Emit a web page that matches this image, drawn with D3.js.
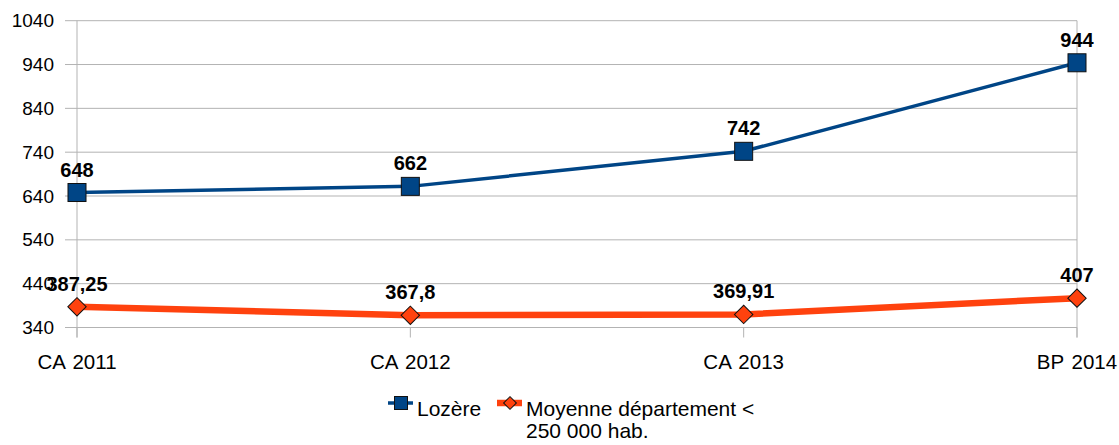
<!DOCTYPE html>
<html><head><meta charset="utf-8">
<script src="https://cdn.jsdelivr.net/npm/d3@7"></script>
<style>body{margin:0;background:#fff;}svg{display:block;font-family:"Liberation Sans",Arial,sans-serif;}</style>
</head><body>
<svg id="c" width="1119" height="445"></svg>
<script>
const categories = ["CA 2011","CA 2012","CA 2013","BP 2014"];
const lozere = [648, 662, 742, 944];
const moyenne = [387.25, 367.8, 369.91, 407];
const lozereLabels = ["648","662","742","944"];
const moyenneLabels = ["387,25","367,8","369,91","407"];
const yTicks = [340,440,540,640,740,840,940,1040];
const seriesNames = ["Lozère","Moyenne département <","250 000 hab."];

const svg = d3.select("#c");
const x = d3.scalePoint().domain(categories).range([77, 1077]);
const y = d3.scaleLinear().domain([340, 1040]).range([327.5, 20.7]);
const grid = "#b3b3b3";

svg.append("g").selectAll("line").data(yTicks).join("line")
  .attr("x1", 65).attr("x2", 1077)
  .attr("y1", d=>y(d)).attr("y2", d=>y(d))
  .attr("stroke", grid).attr("stroke-width", 1);
[categories[0], categories[3]].forEach(c=>{
  svg.append("line").attr("x1", x(c)).attr("x2", x(c)).attr("y1", y(1040)).attr("y2", y(340)+10)
    .attr("stroke", grid).attr("stroke-width", 1);
});
svg.append("g").selectAll("line").data(categories).join("line")
  .attr("x1", d=>x(d)).attr("x2", d=>x(d)).attr("y1", y(340)).attr("y2", y(340)+10)
  .attr("stroke", grid).attr("stroke-width", 1);

svg.append("g").selectAll("text").data(yTicks).join("text")
  .attr("x", 54).attr("y", d=>y(d)).attr("dy", "0.35em")
  .attr("text-anchor", "end").attr("font-size", 19).attr("fill", "#000")
  .text(d=>d);
svg.append("g").selectAll("text").data(categories).join("text")
  .attr("x", d=>x(d)).attr("y", 369)
  .attr("text-anchor", "middle").attr("font-size", 20.5).attr("fill", "#000")
  .attr("word-spacing", 2)
  .text(d=>d);

const line = d3.line().x((d,i)=>x(categories[i])).y(d=>y(d)).curve(d3.curveLinear);

svg.append("path").datum(moyenne).attr("d", line).attr("fill","none")
  .attr("stroke","#ff420e").attr("stroke-width",6.5).attr("stroke-linejoin","round");
svg.append("path").datum(lozere).attr("d", line).attr("fill","none")
  .attr("stroke","#004586").attr("stroke-width",3.5).attr("stroke-linejoin","round");

const sq = 18, dm = 13;
svg.append("g").selectAll("rect").data(lozere).join("rect")
  .attr("x",(d,i)=>x(categories[i])-sq/2).attr("y",d=>y(d)-sq/2)
  .attr("width",sq).attr("height",sq).attr("fill","#004586").attr("stroke","#111").attr("stroke-width",1);
svg.append("g").selectAll("rect").data(moyenne).join("rect")
  .attr("x",-dm/2).attr("y",-dm/2).attr("width",dm).attr("height",dm)
  .attr("transform",(d,i)=>`translate(${x(categories[i])},${y(d)}) rotate(45)`)
  .attr("fill","#ff420e").attr("stroke","#111").attr("stroke-width",1);

svg.append("g").selectAll("text").data(lozere).join("text")
  .attr("x",(d,i)=>x(categories[i])).attr("y",d=>y(d)-16)
  .attr("text-anchor","middle").attr("font-size",20).attr("font-weight","bold")
  .text((d,i)=>lozereLabels[i]);
svg.append("g").selectAll("text").data(moyenne).join("text")
  .attr("x",(d,i)=>x(categories[i])).attr("y",d=>y(d)-16)
  .attr("text-anchor","middle").attr("font-size",20).attr("font-weight","bold")
  .text((d,i)=>moyenneLabels[i]);

const lg = svg.append("g");
lg.append("line").attr("x1",388).attr("x2",413).attr("y1",403).attr("y2",403).attr("stroke","#004586").attr("stroke-width",3.5);
lg.append("rect").attr("x",401-6.5).attr("y",403-6.5).attr("width",13).attr("height",13).attr("fill","#004586").attr("stroke","#111");
lg.append("text").attr("x",417).attr("y",416).attr("font-size",21).text(seriesNames[0]);
lg.append("line").attr("x1",497).attr("x2",522).attr("y1",403).attr("y2",403).attr("stroke","#ff420e").attr("stroke-width",6.5);
lg.append("rect").attr("x",-4.5).attr("y",-4.5).attr("width",9).attr("height",9)
  .attr("transform","translate(510,403) rotate(45)").attr("fill","#ff420e").attr("stroke","#111");
lg.append("text").attr("x",526).attr("y",416).attr("font-size",21).text(seriesNames[1]);
lg.append("text").attr("x",526).attr("y",438).attr("font-size",21).text(seriesNames[2]);
</script>
</body></html>
